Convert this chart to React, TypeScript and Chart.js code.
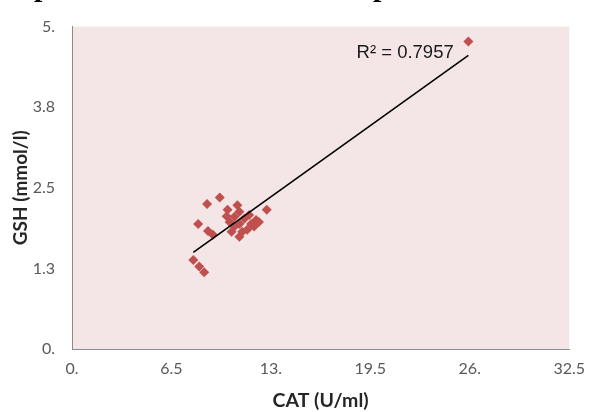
import React, { useEffect, useRef } from "react";
import { Chart, registerables } from "chart.js";

Chart.register(...registerables);

// CAT (U/ml) values
const catValues = [
  9.66, 8.83, 10.81, 10.17, 10.94, 12.73, 8.25, 8.89, 9.21, 10.3, 10.62, 10.94,
  11.26, 11.58, 11.71, 12.03, 10.43, 10.94, 11.45, 11.9, 12.22, 10.62, 11.13,
  10.11, 7.93, 8.32, 8.64, 25.91,
];
// GSH (mmol/l) values
const gshValues = [
  2.35, 2.25, 2.23, 2.16, 2.13, 2.16, 1.94, 1.83, 1.77, 1.97, 2.05, 1.94, 2.02,
  2.08, 1.94, 2.0, 1.82, 1.74, 1.85, 1.9, 1.97, 1.9, 1.82, 2.06, 1.38, 1.28,
  1.19, 4.77,
];

const xTickValues = [0, 6.5, 13, 19.5, 26, 32.5];
const xTickLabels = ["0.", "6.5", "13.", "19.5", "26.", "32.5"];
const yTickValues = [0, 1.25, 2.5, 3.75, 5];
const yTickLabels = ["0.", "1.3", "2.5", "3.8", "5."];

const xTitle = "CAT (U/ml)";
const yTitle = "GSH (mmol/l)";
const r2Text = "R² = 0.7957";
const r2Anchor = [18.6, 4.59]; // data coordinates of the label's left/middle
const cutTitleGlyphs = ["p", "p"]; // descenders of a cropped title above the chart
const cutTitleX = [34, 373];

function regression(xs: number[], ys: number[]) {
  const n = xs.length;
  const mx = xs.reduce((a, b) => a + b, 0) / n;
  const my = ys.reduce((a, b) => a + b, 0) / n;
  let sxy = 0;
  let sxx = 0;
  for (let i = 0; i < n; i++) {
    sxy += (xs[i] - mx) * (ys[i] - my);
    sxx += (xs[i] - mx) * (xs[i] - mx);
  }
  const slope = sxy / sxx;
  return { slope, intercept: my - slope * mx };
}

export default function App() {
  const canvasRef = useRef<HTMLCanvasElement | null>(null);

  useEffect(() => {
    if (!canvasRef.current) return;
    const { slope, intercept } = regression(catValues, gshValues);
    const minX = Math.min(...catValues);
    const maxX = Math.max(...catValues);
    const trend = [minX, maxX].map((x) => ({ x, y: slope * x + intercept }));
    const points = catValues.map((x, i) => ({ x, y: gshValues[i] }));

    const bgPlugin = {
      id: "plotBg",
      beforeDraw(chart: any) {
        const { ctx, chartArea } = chart;
        ctx.save();
        ctx.fillStyle = "#ffffff";
        ctx.fillRect(0, 0, chart.width, chart.height);
        ctx.fillStyle = "#F4E6E6";
        ctx.fillRect(
          chartArea.left,
          chartArea.top,
          chartArea.right - chartArea.left,
          chartArea.bottom - chartArea.top
        );
        ctx.restore();
      },
      afterDraw(chart: any) {
        const { ctx, scales } = chart;
        ctx.save();
        ctx.font = '18.5px "Liberation Sans", Arial, sans-serif';
        ctx.fillStyle = "#1a1a1a";
        ctx.textAlign = "left";
        ctx.textBaseline = "middle";
        ctx.fillText(
          r2Text,
          scales.x.getPixelForValue(r2Anchor[0]),
          scales.y.getPixelForValue(r2Anchor[1])
        );
        ctx.font = 'bold 30px "Liberation Serif", serif';
        ctx.fillStyle = "#000000";
        ctx.textBaseline = "alphabetic";
        cutTitleGlyphs.forEach((g, i) => ctx.fillText(g, cutTitleX[i], -4));
        ctx.restore();
      },
    };

    const chart = new Chart(canvasRef.current, {
      type: "scatter",
      data: {
        datasets: [
          {
            type: "line",
            label: "Trend",
            data: trend,
            borderColor: "#000000",
            borderWidth: 1.6,
            pointRadius: 0,
            fill: false,
            order: 0,
          } as any,
          {
            label: "GSH",
            data: points,
            pointStyle: "rectRot",
            pointRadius: 5,
            pointBackgroundColor: "#C0504D",
            pointBorderColor: "#C0504D",
            pointBorderWidth: 0,
            order: 1,
          },
        ],
      },
      options: {
        animation: false,
        responsive: false,
        devicePixelRatio: 1,
        events: [],
        layout: { padding: { top: 19, right: 16, left: 0, bottom: 0 } },
        plugins: {
          legend: { display: false },
          tooltip: { enabled: false },
          title: { display: false },
        },
        scales: {
          x: {
            type: "linear",
            min: 0,
            max: 32.5,
            afterFit: (s: any) => {
              s.height = 63;
            },
            afterBuildTicks: (s: any) => {
              s.ticks = xTickValues.map((v) => ({ value: v }));
            },
            ticks: {
              callback: (_v: any, i: number) => xTickLabels[i],
              font: { family: "Lato", size: 16 },
              color: "#595959",
              padding: 10,
              maxRotation: 0,
            },
            grid: { display: false, drawTicks: false },
            border: { display: true, color: "#8C8C8C", width: 1 },
            title: {
              display: true,
              text: xTitle,
              font: { family: "Lato", size: 19.5, weight: "bold" },
              color: "#262626",
              padding: 0,
            },
          },
          y: {
            type: "linear",
            min: 0,
            max: 5,
            afterFit: (s: any) => {
              s.width = 72;
            },
            afterBuildTicks: (s: any) => {
              s.ticks = yTickValues.map((v) => ({ value: v }));
            },
            ticks: {
              callback: (_v: any, i: number) => yTickLabels[i],
              font: { family: "Lato", size: 16 },
              color: "#595959",
              padding: 17,
            },
            grid: { display: false, drawTicks: false },
            border: { display: true, color: "#8C8C8C", width: 1 },
            title: {
              display: true,
              text: yTitle,
              font: { family: "Lato", size: 19, weight: "bold" },
              color: "#262626",
              padding: { top: 9, bottom: 7 },
            },
          },
        },
      },
      plugins: [bgPlugin],
    });

    return () => chart.destroy();
  }, []);

  return (
    <div style={{ position: "fixed", left: 0, top: 0, width: 595, height: 412 }}>
      <canvas ref={canvasRef} width={595} height={412} />
    </div>
  );
}
